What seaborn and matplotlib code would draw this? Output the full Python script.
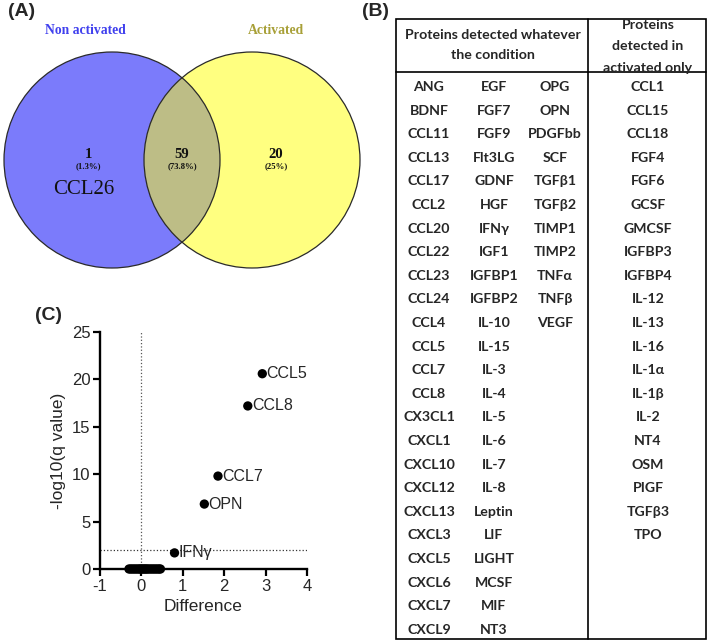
import matplotlib
matplotlib.use("Agg")
import matplotlib.pyplot as plt
from matplotlib.patches import Circle, Rectangle
import seaborn as sns
import pandas as pd

# Venn counts
venn_sets = ["Non activated", "Activated"]
venn_counts = [1, 59, 20]
venn_pcts = ["(1.3%)", "(73.8%)", "(25%)"]
venn_only_left = "CCL26"

# Table columns
col_common_1 = ["ANG", "BDNF", "CCL11", "CCL13", "CCL17", "CCL2", "CCL20", "CCL22",
                "CCL23", "CCL24", "CCL4", "CCL5", "CCL7", "CCL8", "CX3CL1", "CXCL1",
                "CXCL10", "CXCL12", "CXCL13", "CXCL3", "CXCL5", "CXCL6", "CXCL7", "CXCL9"]
col_common_2 = ["EGF", "FGF7", "FGF9", "Flt3LG", "GDNF", "HGF", "IFNγ", "IGF1",
                "IGFBP1", "IGFBP2", "IL-10", "IL-15", "IL-3", "IL-4", "IL-5", "IL-6",
                "IL-7", "IL-8", "Leptin", "LIF", "LIGHT", "MCSF", "MIF", "NT3"]
col_common_3 = ["OPG", "OPN", "PDGFbb", "SCF", "TGFβ1", "TGFβ2", "TIMP1", "TIMP2",
                "TNFα", "TNFβ", "VEGF"]
col_activated = ["CCL1", "CCL15", "CCL18", "FGF4", "FGF6", "GCSF", "GMCSF", "IGFBP3",
                 "IGFBP4", "IL-12", "IL-13", "IL-16", "IL-1α", "IL-1β", "IL-2", "NT4",
                 "OSM", "PIGF", "TGFβ3", "TPO"]

# Scatter (panel C)
labeled_names = ["CCL5", "CCL8", "CCL7", "OPN", "IFNγ"]
labeled_diff = [2.92, 2.57, 1.85, 1.52, 0.80]
labeled_q = [20.6, 17.2, 9.8, 6.85, 1.7]
zero_diff = [-0.30, -0.26, -0.22, -0.18, -0.14, -0.10, -0.06, -0.03, 0.0, 0.03,
             0.06, 0.09, 0.12, 0.15, 0.19, 0.23, 0.27, 0.31, 0.35, 0.39, 0.43, 0.46]
zero_q = [0.0] * len(zero_diff)

sns.set_theme(style="ticks")
plt.rcParams["font.family"] = ["Liberation Sans", "DejaVu Sans"]

W, H = 708, 642
fig = plt.figure(figsize=(W / 100, H / 100), dpi=100)

# overlay in pixel coordinates for venn + table
ov = fig.add_axes([0, 0, 1, 1])
ov.set_xlim(0, W)
ov.set_ylim(H, 0)
ov.axis("off")

# ---- (A) Venn
serif = ["Liberation Serif", "DejaVu Serif"]
c_left = Circle((112, 160), 108, facecolor="#7b7bfb", edgecolor="none", zorder=1)
c_right = Circle((252, 160), 108, facecolor="#ffff80", edgecolor="none", zorder=1)
ov.add_patch(c_left)
ov.add_patch(c_right)
lens = Circle((112, 160), 108, facecolor="#bdbd86", edgecolor="none", zorder=2)
ov.add_patch(lens)
lens.set_clip_path(Circle((252, 160), 108, transform=ov.transData))
ov.add_patch(Circle((112, 160), 108, fill=False, edgecolor="#2a2a2a", lw=0.9, zorder=3))
ov.add_patch(Circle((252, 160), 108, fill=False, edgecolor="#2a2a2a", lw=0.9, zorder=3))

ov.text(85, 31, venn_sets[0], color="#4040ee", fontsize=9.8, fontweight="bold",
        family=serif, ha="center", va="center")
ov.text(276, 31, venn_sets[1], color="#a8a038", fontsize=9.8, fontweight="bold",
        family=serif, ha="center", va="center")
for x, n, p in zip([88, 182, 276], venn_counts, venn_pcts):
    ov.text(x, 154, str(n), fontsize=10.5, fontweight="bold", family=serif,
            ha="center", va="center", color="#111111", zorder=4)
    ov.text(x, 166, p, fontsize=6.3, fontweight="bold", family=serif,
            ha="center", va="center", color="#111111", zorder=4)
ov.text(84, 189, venn_only_left, fontsize=15, family=serif, ha="center",
        va="center", color="#111111", zorder=4)
ov.text(8, 12, "(A)", fontsize=14, fontweight="bold", ha="left", va="center")

# ---- (B) table
tx0, tx1, ty0, ty1 = 396, 706, 19, 639
sep_x, head_y = 588, 72
ov.add_patch(Rectangle((tx0, ty0), tx1 - tx0, ty1 - ty0, fill=False,
                       edgecolor="black", lw=1.2))
ov.plot([sep_x, sep_x], [ty0, ty1], color="black", lw=1.2)
ov.plot([tx0, tx1], [head_y, head_y], color="black", lw=1.2)
ov.text(362, 12, "(B)", fontsize=14, fontweight="bold", ha="left", va="center")

tfont = ["Lato", "DejaVu Sans"]
fs = 10.2
ov.text(493, 35, "Proteins detected whatever", fontsize=fs, fontweight="bold",
        family=tfont, ha="center", va="center")
ov.text(493, 55, "the condition", fontsize=fs, fontweight="bold",
        family=tfont, ha="center", va="center")
ov.text(648, 25, "Proteins", fontsize=fs, fontweight="bold",
        family=tfont, ha="center", va="center")
ov.text(648, 46, "detected in", fontsize=fs, fontweight="bold",
        family=tfont, ha="center", va="center")
t = ov.text(648, 68, "activated only", fontsize=fs, fontweight="bold",
            family=tfont, ha="center", va="center")
t.set_clip_path(Rectangle((sep_x, ty0), tx1 - sep_x, head_y - ty0,
                          transform=ov.transData))

row_y0, row_dy = 87, 23.6
for cx, col in zip([429, 494, 555, 648],
                   [col_common_1, col_common_2, col_common_3, col_activated]):
    for i, name in enumerate(col):
        ov.text(cx, row_y0 + i * row_dy, name, fontsize=fs, fontweight="bold",
                family=tfont, ha="center", va="center")

# ---- (C) scatter
ax = fig.add_axes([100 / W, 73 / H, 207 / W, 237 / H])
df = pd.DataFrame({
    "Difference": zero_diff + labeled_diff,
    "q": zero_q + labeled_q,
})
ax.axvline(0, color="#555555", ls=":", lw=0.9, zorder=1)
ax.axhline(2, color="#333333", ls=":", lw=0.9, zorder=1)
sns.scatterplot(data=df, x="Difference", y="q", ax=ax, color="black", s=45,
                edgecolor="none", zorder=3, clip_on=False)
for name, x, y in zip(labeled_names, labeled_diff, labeled_q):
    ax.text(x + 0.1, y, name, fontsize=11.5, va="center", ha="left")

ax.set_xlim(-1, 4)
ax.set_ylim(0, 25)
ax.set_xticks([-1, 0, 1, 2, 3, 4])
ax.set_xticklabels(["-1", "0", "1", "2", "3", "4"])
ax.set_yticks([0, 5, 10, 15, 20, 25])
ax.set_xlabel("Difference", fontsize=12.5)
ax.set_ylabel("-log10(q value)", fontsize=12.5)
ax.tick_params(labelsize=12, width=1.6, length=5, pad=2, color="black")
for s in ["left", "bottom"]:
    ax.spines[s].set_linewidth(1.7)
    ax.spines[s].set_color("black")
sns.despine(ax=ax)
fig.text(35 / W, 1 - 315 / H, "(C)", fontsize=14, fontweight="bold",
         ha="left", va="center")

fig.savefig("out.png", dpi=100)
